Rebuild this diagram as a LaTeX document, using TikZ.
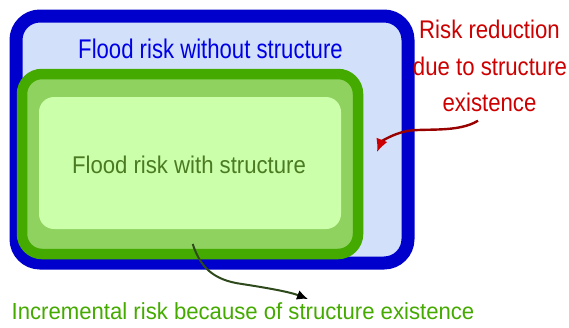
\documentclass[tikz,border=0pt]{standalone}
\usepackage{fontspec}
\usetikzlibrary{arrows.meta}
% condensed sans faces for the labels
\newfontfamily\withoutface[FakeStretch=0.82]{Liberation Sans}
\newfontfamily\withface[FakeStretch=0.915]{Liberation Sans}
\newfontfamily\reductionface[FakeStretch=0.87]{Liberation Sans}
\newfontfamily\incrementface[FakeStretch=0.95]{Liberation Sans}
\definecolor{outerblue}{HTML}{0000CC}
\definecolor{outerfill}{HTML}{D2E0FA}
\definecolor{withoutblue}{HTML}{0000E6}
\definecolor{ringgreen}{HTML}{44AA00}
\definecolor{midgreen}{HTML}{8FD260}
\definecolor{palegreen}{HTML}{CCFFAA}
\definecolor{withgreen}{HTML}{4A7A22}
\definecolor{redtext}{HTML}{CC0000}
\definecolor{redline}{HTML}{990000}
\definecolor{darkline}{HTML}{2E4A1C}
\tikzset{
  box/.style={rectangle, inner sep=0pt, outer sep=0pt},
  label/.style={inner sep=0pt, outer sep=0pt, anchor=base},
}
\begin{document}
\begin{tikzpicture}[x=1pt,y=-1pt]
\useasboundingbox (0,0) rectangle (569,327);

% outer region: flood risk without the structure
\node[box, draw=outerblue, line width=13pt, fill=outerfill, rounded corners=24pt,
      minimum width=392pt, minimum height=247pt] (without) at (212,139.5) {};
% green region: flood risk with the structure
\node[box, draw=ringgreen, line width=10.5pt, fill=midgreen, rounded corners=20pt,
      minimum width=336pt, minimum height=180pt] (with) at (190,164) {};
\node[box, fill=palegreen, rounded corners=15pt,
      minimum width=302pt, minimum height=132pt] (withcore) at (190,163) {};

% labels
\node[label, text=withoutblue, font=\withoutface\fontsize{27}{27}\selectfont]
  (withoutLabel) at (210.5,58.7) {Flood risk without structure};
\node[label, text=withgreen, font=\withface\fontsize{24.2}{24.2}\selectfont]
  (withLabel) at (189,173.3) {Flood risk with structure};
\node[label, text=redtext, font=\reductionface\fontsize{25.5}{25.5}\selectfont]
  (reductionA) at (489.5,38.3) {Risk reduction};
\node[label, text=redtext, font=\reductionface\fontsize{25.5}{25.5}\selectfont]
  (reductionB) at (490,75) {due to structure};
\node[label, text=redtext, font=\reductionface\fontsize{25.5}{25.5}\selectfont]
  (reductionC) at (489.5,111.5) {existence};
\node[label, text=ringgreen, font=\incrementface\fontsize{23.3}{23.3}\selectfont]
  (incrementLabel) at (243,319) {Incremental risk because of structure existence};

% connectors
\coordinate (redTail) at (478,120.7);
\coordinate (redTip) at (377,152);
\draw[redline, line width=2.4pt,
      -{Latex[length=13pt, width=12pt, color=redtext]}]
  (redTail) .. controls (458,133) and (425,128) .. (407,131)
            .. controls (392,134) and (381,142) .. (redTip);

\coordinate (incTail) at (192.7,244);
\coordinate (incTip) at (308,299);
\draw[darkline, line width=2pt,
      -{Latex[length=11pt, width=10pt, color=black]}]
  (incTail) .. controls (200,266) and (212,280) .. (242,284)
            .. controls (268,288) and (290,292) .. (incTip);
\end{tikzpicture}
\end{document}
